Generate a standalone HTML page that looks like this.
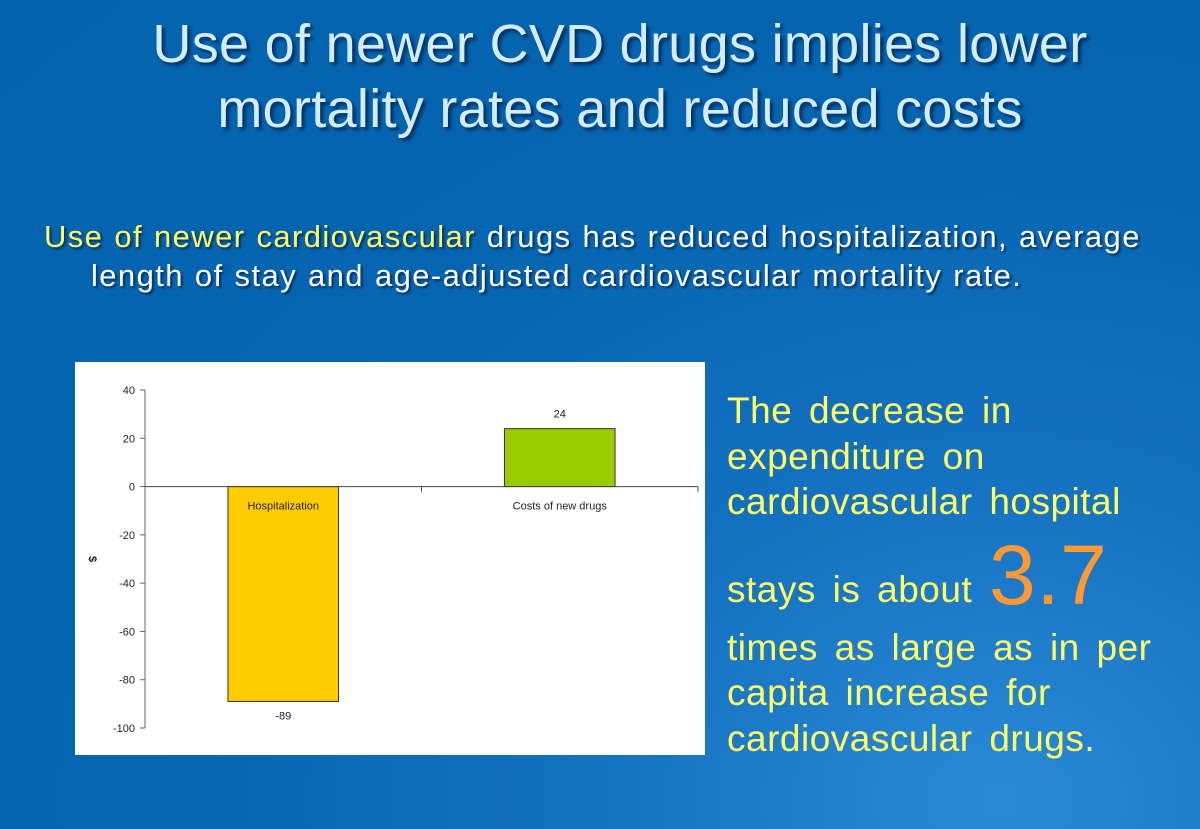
<!DOCTYPE html>
<html><head><meta charset="utf-8"><style>
html,body{margin:0;padding:0}
body{width:1200px;height:829px;overflow:hidden;position:relative;font-family:"Liberation Sans",sans-serif;
background:radial-gradient(ellipse at 1000px 800px,#2a8ad6 0%,#1470c0 30%,#0565b0 60%,#0463ad 100%);}
.t{position:absolute;left:0;width:1240px;text-align:center;color:#d4ecff;font-size:54px;text-shadow:3px 3px 3px #003060;letter-spacing:0.3px}
.sub{position:absolute;color:#fff;font-size:31px;text-shadow:2px 2px 2px #003060;white-space:nowrap;letter-spacing:1.4px;word-spacing:1px}
.side{position:absolute;left:727px;color:#ffff66;font-size:37px;white-space:nowrap;line-height:45.5px;word-spacing:6px;letter-spacing:0.5px}
</style></head><body>
<div class="t" style="top:13px">Use of newer CVD drugs implies lower</div>
<div class="t" style="top:78px">mortality rates and reduced costs</div>
<div class="sub" style="left:44px;top:219px"><span style="color:#ffff66">Use of newer cardiovascular</span> drugs has reduced hospitalization, average</div>
<div class="sub" style="left:91px;top:258px">length of stay and age-adjusted cardiovascular mortality rate.</div>
<svg style="position:absolute;left:75px;top:362px" width="630" height="393">
<rect x="0" y="0" width="630" height="393" fill="#fff"/>
<g id="g" font-family="Liberation Sans" font-size="11" fill="#222"></g>
</svg>
<div class="side" style="top:388px">
<div>The decrease in</div><div>expenditure on</div><div>cardiovascular hospital</div>
<div style="height:100px;line-height:100px">stays is about <span style="color:#ff9933;font-size:84px;vertical-align:-2px">3.7</span></div>
<div>times as large as in per</div><div>capita increase for</div><div>cardiovascular drugs.</div></div>
<script>
const categories=["Hospitalization","Costs of new drugs"];
const values=[-89,24];
const ticks=[40,20,0,-20,-40,-60,-80,-100];
const colors=["#ffcc00","#99cc00"];
const NS="http://www.w3.org/2000/svg",g=document.getElementById('g');
const ox=70,x1=623,yTop=28,yBot=366,vMax=40,vMin=-100;
const y=v=>yTop+(vMax-v)*(yBot-yTop)/(vMax-vMin);
const bw=(x1-ox)/categories.length;
const xc=i=>ox+bw*(i+0.5);
function el(t,a){const e=document.createElementNS(NS,t);for(const k in a)e.setAttribute(k,a[k]);g.appendChild(e);return e;}
let ax=el('line',{x1:ox,y1:yTop,x2:ox,y2:yBot,stroke:'#666'});

ticks.forEach(t=>{let l=el('line',{x1:ox-5,x2:ox,y1:y(t),y2:y(t),stroke:'#666'});

let tx=el('text',{x:ox-10,y:y(t)+4,'text-anchor':'end'});tx.textContent=t;
});
let yt=el('text',{x:14,y:(yTop+yBot)/2,'text-anchor':'middle','font-weight':'bold',transform:`rotate(90 14 ${(yTop+yBot)/2})`});yt.textContent='$';

values.forEach((v,i)=>{const w=bw*0.4,x=xc(i)-w/2;
let r=el('rect',{x:x,y:Math.min(y(v),y(0)),width:w,height:Math.abs(y(v)-y(0)),fill:colors[i],stroke:'#333','stroke-width':1});

let vl=el('text',{x:xc(i),y:v>=0?y(v)-11:y(v)+18,'text-anchor':'middle'});vl.textContent=v;

let cl=el('text',{x:xc(i),y:y(0)+23,'text-anchor':'middle'});cl.textContent=categories[i];
});
let xa=el('line',{x1:ox,y1:y(0),x2:x1,y2:y(0),stroke:'#444'});

for(let i=1;i<=categories.length;i++){let l=el('line',{x1:ox+bw*i,x2:ox+bw*i,y1:y(0),y2:y(0)+5,stroke:'#444'});
}
</script>
</body></html>
